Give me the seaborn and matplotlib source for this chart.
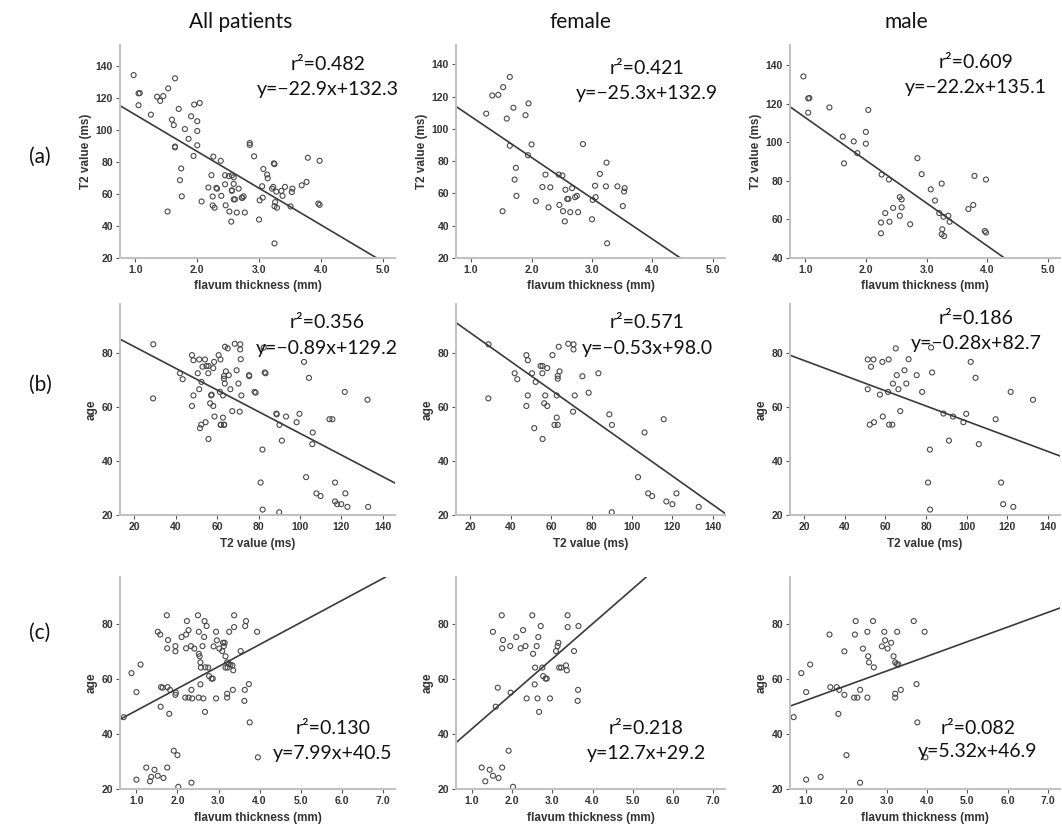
"""Flavum thickness, T2 value and age: scatter plots with fit lines (all / female / male)."""

import numpy as np
import matplotlib
matplotlib.use("Agg")
import matplotlib.pyplot as plt
import seaborn as sns

# =========================
# DATA
# =========================
# (a) flavum thickness (mm) vs T2 value (ms)
fem_a_x = [1.64, 1.53, 1.35, 1.45, 1.25, 1.70, 1.59, 1.95, 1.90, 1.64, 2.00, 1.94,
           1.74, 1.72, 1.75, 1.52, 2.07, 2.23, 2.18, 2.31, 2.28, 2.45, 2.51, 2.56,
           2.59, 2.61, 2.46, 2.52, 2.55, 2.64, 2.67, 2.72, 2.75, 2.77, 2.85, 3.01,
           3.00, 3.05, 3.06, 3.13, 3.24, 3.23, 3.42, 3.54, 3.53, 3.51, 3.25]
fem_a_y = [132.2, 125.9, 120.7, 121.1, 109.5, 113.1, 106.4, 115.8, 108.5, 89.6, 90.4, 83.7,
           75.9, 68.6, 58.5, 49.0, 55.3, 71.7, 64.0, 63.8, 51.4, 71.7, 71.1, 62.3,
           56.6, 56.6, 52.9, 49.0, 42.7, 48.4, 63.3, 57.7, 58.5, 48.4, 90.6, 56.0,
           44.0, 64.8, 57.7, 72.1, 79.1, 64.4, 64.4, 63.3, 61.2, 52.2, 29.1]

male_a_x = [0.97, 1.05, 1.07, 1.05, 1.40, 1.62, 1.64, 1.80, 1.86, 2.00, 2.00, 2.04,
            2.26, 2.38, 2.56, 2.59, 2.59, 2.45, 2.32, 2.56, 2.25, 2.39, 2.73, 2.25,
            2.85, 2.92, 3.07, 3.14, 3.25, 3.21, 3.28, 3.36, 3.38, 3.26, 3.25, 3.29,
            3.69, 3.77, 3.79, 3.98, 3.96, 3.98]
male_a_y = [134.2, 122.8, 123.0, 115.4, 118.1, 103.0, 89.1, 100.5, 94.4, 105.4, 99.3, 116.8,
            83.3, 80.7, 71.6, 70.4, 66.3, 66.0, 63.3, 61.9, 58.4, 58.8, 57.5, 52.8,
            91.8, 83.5, 75.6, 69.8, 78.6, 63.3, 61.4, 61.9, 58.8, 54.9, 52.3, 51.4,
            65.4, 67.5, 82.6, 80.7, 54.0, 53.2]

# (b) T2 value (ms) vs age
fem_b_x = [29.1, 29.0, 47.8, 48.5, 42.0, 43.3, 47.8, 48.5, 50.6, 52.4, 51.7, 54.8,
           55.8, 55.7, 58.1, 57.1, 56.6, 58.1, 55.8, 60.7, 62.8, 61.7, 63.3, 62.8,
           63.3, 63.3, 64.2, 63.8, 68.5, 71.1, 71.1, 70.9, 71.7, 75.5, 78.6, 83.4,
           88.8, 90.1, 106.2, 115.7,
           103.0, 108.0, 110.0, 117.0, 120.0, 122.0, 133.0, 90.0]
fem_b_y = [83.1, 63.1, 79.1, 77.2, 72.4, 70.2, 60.3, 64.2, 72.4, 69.2, 52.1, 75.1,
           75.1, 72.4, 74.3, 64.2, 61.3, 60.3, 48.1, 79.1, 56.0, 53.3, 53.3, 64.2,
           71.4, 70.4, 73.1, 82.2, 83.3, 83.1, 81.2, 58.2, 64.2, 71.3, 65.2, 72.4,
           57.2, 53.3, 50.5, 55.4,
           34.0, 28.0, 27.0, 25.0, 24.0, 28.0, 23.0, 21.0]

male_b_x = [51.3, 54.1, 52.9, 58.5, 61.6, 65.1, 51.3, 57.3, 61.3, 63.7, 65.6, 66.4,
            69.4, 70.3, 71.4, 75.4, 78.1, 82.5, 83.0, 52.3, 54.4, 58.7, 61.8, 63.4,
            67.3, 81.9, 88.6, 91.3, 93.3, 98.4, 99.8, 102.0, 104.4, 106.0, 114.3, 121.7,
            132.7, 81.0, 82.0, 117.0, 118.0, 123.0]
male_b_y = [77.5, 77.5, 74.8, 76.6, 77.5, 81.6, 66.5, 64.5, 65.5, 68.6, 71.7, 66.5,
            73.5, 68.6, 77.6, 71.7, 65.5, 81.9, 72.7, 53.4, 54.3, 56.4, 53.4, 53.4,
            58.4, 44.2, 57.5, 47.5, 56.4, 54.3, 57.4, 76.6, 70.7, 46.2, 55.4, 65.5,
            62.6, 32.0, 22.0, 32.0, 24.0, 23.0]

# (c) flavum thickness (mm) vs age
fem_c_x = [1.74, 1.52, 2.27, 2.50, 2.71, 2.10, 2.65, 1.77, 1.95, 2.21, 2.33, 2.61,
           1.75, 2.52, 3.09, 3.13, 3.15, 3.54, 3.38, 3.38, 3.65, 2.57, 2.75, 3.17,
           3.22, 3.34, 3.36, 2.77, 2.83, 2.86, 2.56, 1.96, 1.64, 1.59, 2.36, 2.63,
           2.94, 2.67, 3.64, 3.63, 1.91, 1.24, 1.44, 1.52, 1.66, 1.75, 1.33, 2.02]
fem_c_y = [83.1, 77.1, 77.7, 83.1, 79.2, 75.2, 75.2, 74.1, 71.9, 71.1, 71.9, 71.9,
           71.1, 69.1, 70.1, 71.9, 73.1, 70.1, 78.8, 83.1, 79.2, 64.1, 64.1, 64.1,
           64.1, 64.9, 63.1, 61.0, 60.1, 60.1, 58.0, 55.0, 56.8, 49.9, 52.9, 52.9,
           52.9, 48.0, 56.0, 52.0, 33.9, 27.8, 27.0, 24.8, 24.0, 27.8, 22.8, 20.8]

male_c_x = [2.23, 2.66, 3.67, 1.58, 2.21, 2.52, 2.94, 3.26, 3.94, 2.96, 3.11, 1.95,
            2.41, 2.88, 3.02, 2.54, 2.56, 3.17, 2.68, 3.21, 3.25, 3.29, 0.88, 1.10,
            1.00, 1.60, 1.76, 1.82, 1.95, 2.19, 2.27, 2.34, 2.52, 3.21, 3.21, 3.35,
            3.74, 1.80, 0.69, 3.76, 2.00, 1.00, 1.36, 2.34, 3.96]
male_c_y = [81.0, 81.0, 81.0, 76.1, 76.1, 77.1, 77.1, 77.1, 77.1, 74.0, 73.1, 70.0,
            71.0, 71.8, 71.0, 68.2, 66.0, 68.2, 64.2, 66.0, 65.4, 65.2, 62.1, 65.2,
            55.2, 57.0, 57.0, 56.0, 54.2, 53.2, 53.2, 56.0, 53.2, 54.6, 53.2, 56.0,
            58.1, 47.3, 46.1, 44.2, 32.3, 23.4, 24.4, 22.3, 31.5]

# fit lines as drawn (slope, intercept) and printed labels
fit_slope = [[-22.9, -25.3, -22.2], [-0.40, -0.53, -0.28], [7.99, 12.7, 5.32]]
fit_intercept = [[132.3, 132.9, 135.1], [90.2, 98.0, 82.7], [40.5, 29.2, 46.9]]
r2_labels = [["0.482", "0.421", "0.609"], ["0.356", "0.571", "0.186"], ["0.130", "0.218", "0.082"]]
eq_labels = [["y=\u221222.9x+132.3", "y=\u221225.3x+132.9", "y=\u221222.2x+135.1"],
             ["y=\u22120.89x+129.2", "y=\u22120.53x+98.0", "y=\u22120.28x+82.7"],
             ["y=7.99x+40.5", "y=12.7x+29.2", "y=5.32x+46.9"]]

col_titles = ["All patients", "female", "male"]
row_labels = ["(a)", "(b)", "(c)"]
x_labels = ["flavum thickness (mm)", "T2 value (ms)", "flavum thickness (mm)"]
y_labels = ["T2 value (ms)", "age", "age"]

# =========================
# LAYOUT (pixels)
# =========================
W, H = 1062, 827
col_px = [(120, 395), (456, 725), (790, 1060)]
row_px = [(45, 258), (304, 515), (577, 789)]
x_limits = [(0.75, 5.2), (13, 146), (0.6, 7.3)]
y_limits = [[(20, 153), (20, 152), (40, 150.5)],
            [(20, 98), (20, 98), (20, 98)],
            [(20, 97), (20, 97), (20, 97)]]
x_ticks = [[1, 2, 3, 4, 5], [20, 40, 60, 80, 100, 120, 140], [1, 2, 3, 4, 5, 6, 7]]
y_ticks = [[20, 40, 60, 80, 100, 120, 140], [20, 40, 60, 80], [20, 40, 60, 80]]
text_pos = [[(328, 64, 90), (647, 68, 93), (976, 63, 88)],
            [(327, 323, 349), (647, 323, 349), (976, 318, 343)],
            [(333, 728, 753), (646, 728, 753), (978, 728, 752)]]
title_pos = [(241, 22), (580, 22), (906, 22)]
row_label_pos = [(40, 157), (40, 385), (40, 633)]


def panel_data(row, col):
    fx, fy, mx, my = [(fem_a_x, fem_a_y, male_a_x, male_a_y),
                      (fem_b_x, fem_b_y, male_b_x, male_b_y),
                      (fem_c_x, fem_c_y, male_c_x, male_c_y)][row]
    if col == 0:
        return np.array(fx + mx), np.array(fy + my)
    if col == 1:
        return np.array(fx), np.array(fy)
    return np.array(mx), np.array(my)


def main():
    sns.set_style("ticks")
    plt.rcParams["font.family"] = ["Liberation Sans", "DejaVu Sans"]
    fig = plt.figure(figsize=(W / 100, H / 100), dpi=100)
    txt_font = ["Lato", "DejaVu Sans"]

    for r in range(3):
        for c in range(3):
            x0, x1 = col_px[c]
            top, bot = row_px[r]
            ax = fig.add_axes([x0 / W, 1 - bot / H, (x1 - x0) / W, (bot - top) / H])
            x, y = panel_data(r, c)
            sns.scatterplot(x=x, y=y, ax=ax, marker="o", s=13, facecolors="none",
                            edgecolor="#4a4a4a", linewidth=0.8)
            ax.axline((0, fit_intercept[r][c]), slope=fit_slope[r][c], color="#3a3a3a", lw=1.2)
            ax.set_xlim(*x_limits[r])
            ax.set_ylim(*y_limits[r][c])
            ax.set_xticks(x_ticks[r])
            yt = [t for t in y_ticks[r] if t >= y_limits[r][c][0]]
            ax.set_yticks(yt)
            if r == 1:
                ax.set_xticklabels([str(t) for t in x_ticks[r]])
            else:
                ax.set_xticklabels([f"{t:.1f}" for t in x_ticks[r]])
            ax.set_yticklabels([str(t) for t in yt])
            for lab in ax.get_xticklabels() + ax.get_yticklabels():
                lab.set_fontweight("bold")
            ax.tick_params(labelsize=7.5, length=3, width=0.8, color="#555555",
                           labelcolor="#333333", pad=2)
            ax.set_xlabel(x_labels[r], fontsize=8.5, fontweight="bold", color="#333333", labelpad=4)
            ax.set_ylabel(y_labels[r], fontsize=8.5, fontweight="bold", color="#333333", labelpad=3)
            for side in ["top", "right"]:
                ax.spines[side].set_visible(False)
            for side in ["left", "bottom"]:
                ax.spines[side].set_color("#c0c0c0")
                ax.spines[side].set_linewidth(1.4)

            tx, ty1, ty2 = text_pos[r][c]
            fig.text(tx / W, 1 - ty1 / H, "r\u00b2=" + r2_labels[r][c], ha="center", va="center",
                     fontsize=14, family=txt_font, color="#111111")
            fig.text(tx / W, 1 - ty2 / H, eq_labels[r][c], ha="center", va="center",
                     fontsize=14, family=txt_font, color="#111111")

    for (px, py), t in zip(title_pos, col_titles):
        fig.text(px / W, 1 - py / H, t, ha="center", va="center", fontsize=15,
                 family=txt_font, color="#111111")
    for (px, py), t in zip(row_label_pos, row_labels):
        fig.text(px / W, 1 - py / H, t, ha="center", va="center", fontsize=15,
                 family=txt_font, color="#111111")

    fig.savefig("out.png", dpi=100, facecolor="white")


if __name__ == "__main__":
    main()
